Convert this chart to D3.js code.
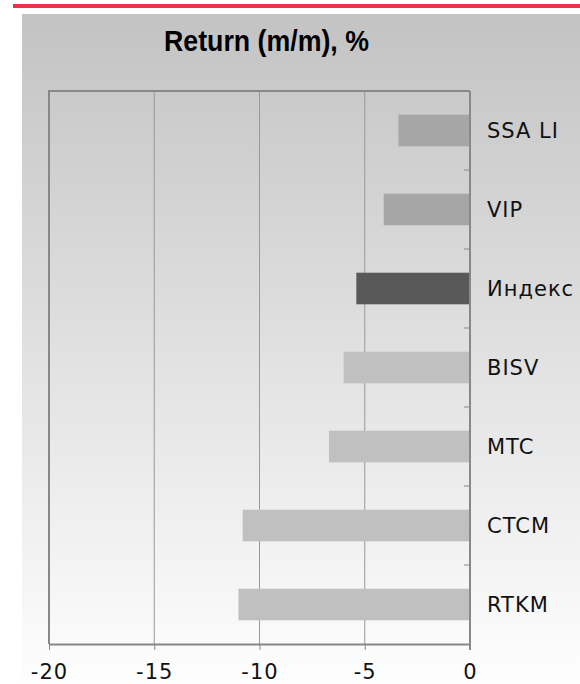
<!DOCTYPE html>
<html>
<head>
<meta charset="utf-8">
<script src="https://cdn.jsdelivr.net/npm/d3@7"></script>
<style>
  body { margin: 0; background: #fff; }
  svg { display: block; }
  .label { font-family: "DejaVu Sans", Verdana, sans-serif; font-size: 21px; fill: #111; letter-spacing: 1px; }
  .title { font-family: "Liberation Sans Narrow", "Arial Narrow", "Liberation Sans", sans-serif; font-weight: bold; font-size: 29px; fill: #000; }
</style>
</head>
<body>
<div id="graphic"></div>
<script>
// data
var categories = ["SSA LI", "VIP", "Индекс", "BISV", "MTC", "CTCM", "RTKM"];
var values = [-3.4, -4.1, -5.4, -6.0, -6.7, -10.8, -11.0];
var barColours = ["#a6a6a6", "#a6a6a6", "#595959", "#c0c0c0", "#c0c0c0", "#c0c0c0", "#c0c0c0"];
var xTicks = [-20, -15, -10, -5, 0];
var titleText = "Return (m/m), %";

var width = 580, height = 684;
var margin = {top: 91, left: 49, bottom: 644, zero: 470};

var svg = d3.select('#graphic').append('svg')
  .attr('width', width)
  .attr('height', height);

// background gradient panel
var grad = svg.append('defs').append('linearGradient')
  .attr('id', 'bg')
  .attr('x1', 0).attr('y1', 0).attr('x2', 0).attr('y2', 1);
grad.append('stop').attr('offset', '0%').attr('stop-color', '#c3c3c3');
grad.append('stop').attr('offset', '100%').attr('stop-color', '#fefefe');

svg.append('rect')
  .attr('x', 22).attr('y', 14)
  .attr('width', width - 22).attr('height', height - 14)
  .attr('fill', 'url(#bg)');

// red rule on top
svg.append('rect')
  .attr('x', 13).attr('y', 4)
  .attr('width', width - 13).attr('height', 4)
  .attr('fill', '#f0304a');

var x = d3.scaleLinear()
  .domain([-20, 0])
  .range([margin.left, margin.zero]);

var y = d3.scaleBand()
  .domain(categories)
  .range([margin.top, margin.bottom])
  .paddingInner(0.6)
  .paddingOuter(0.3);

// band boundaries for the category ticks
var yBounds = d3.scaleBand().domain(categories).range([margin.top, margin.bottom]);

// title
svg.append('text')
  .attr('class', 'title')
  .attr('x', 164)
  .attr('y', 51)
  .attr('textLength', 205)
  .attr('lengthAdjust', 'spacingAndGlyphs')
  .text(titleText);

// vertical gridlines
svg.append('g')
  .selectAll('line')
  .data(xTicks.slice(1, -1))
  .join('line')
  .attr('x1', d => x(d)).attr('x2', d => x(d))
  .attr('y1', margin.top).attr('y2', margin.bottom)
  .attr('stroke', '#999')
  .attr('stroke-width', 1);

// plot border left and top
svg.append('path')
  .attr('d', 'M' + x(-20) + ',' + margin.bottom + 'V' + margin.top + 'H' + x(0))
  .attr('fill', 'none')
  .attr('stroke', '#888')
  .attr('stroke-width', 2);

// bars
svg.append('g')
  .selectAll('rect')
  .data(values)
  .join('rect')
  .attr('x', d => x(d))
  .attr('y', (d, i) => y(categories[i]))
  .attr('width', d => x(0) - x(d))
  .attr('height', y.bandwidth())
  .attr('fill', (d, i) => barColours[i]);

// x axis
var xAxis = svg.append('g')
  .attr('transform', 'translate(0,' + margin.bottom + ')')
  .call(d3.axisBottom(x).tickValues(xTicks).tickSize(6).tickSizeOuter(0).tickPadding(14));
xAxis.select('.domain').attr('stroke', '#888').attr('stroke-width', 2);
xAxis.selectAll('line').attr('stroke', '#888');
xAxis.selectAll('text')
  .attr('class', 'label')
  .attr('font-family', null).attr('font-size', null)
  .text(d => d < 0 ? '-' + Math.abs(d) : d);

// y axis at zero, ticks on band boundaries
var yAxis = svg.append('g')
  .attr('transform', 'translate(' + x(0) + ',0)');
yAxis.append('line')
  .attr('x1', 0).attr('x2', 0)
  .attr('y1', margin.top).attr('y2', margin.bottom + 6)
  .attr('stroke', '#888')
  .attr('stroke-width', 2);
yAxis.selectAll('line.tick')
  .data(categories.slice(1))
  .join('line')
  .attr('class', 'tick')
  .attr('x1', -6).attr('x2', 0)
  .attr('y1', d => yBounds(d)).attr('y2', d => yBounds(d))
  .attr('stroke', '#888');

// category labels
svg.append('g')
  .selectAll('text')
  .data(categories)
  .join('text')
  .attr('class', 'label')
  .attr('x', x(0) + 17)
  .attr('y', d => y(d) + y.bandwidth() / 2)
  .attr('dy', '0.36em')
  .text(d => d);
</script>
</body>
</html>
